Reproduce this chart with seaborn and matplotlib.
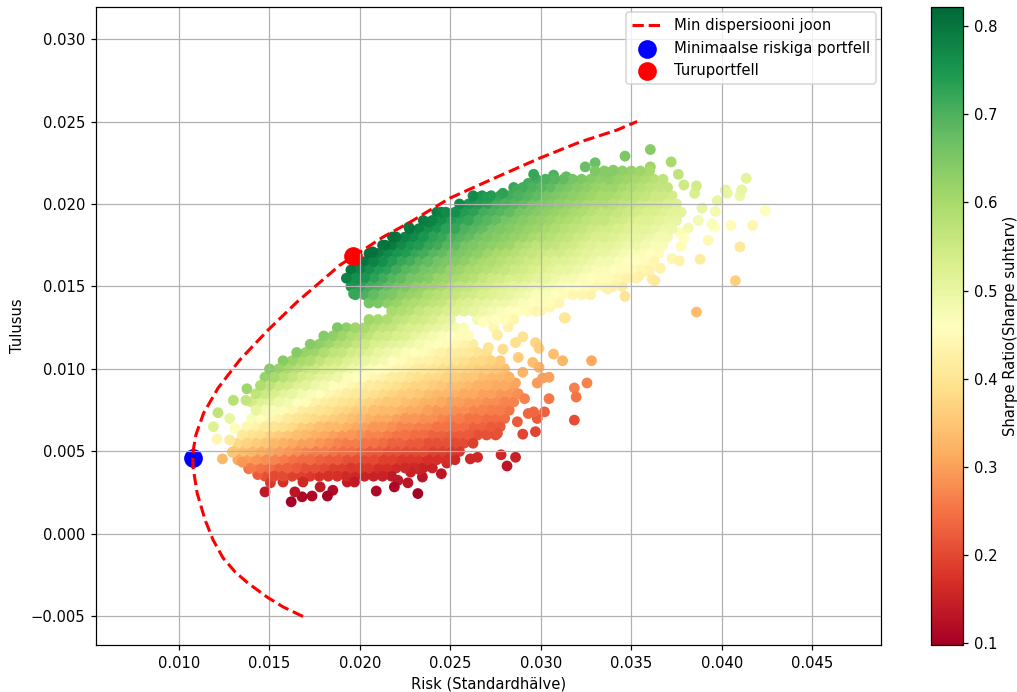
import numpy as np
import pandas as pd
import matplotlib
matplotlib.use('Agg')
import matplotlib.pyplot as plt
import seaborn as sns

#-----------------------------------------------
# all risk / return values below are in units of 0.001
ret_rows=[3.5, 4, 4.5, 5, 5.5, 6, 6.5, 7, 7.5, 8, 8.5, 9, 9.5, 10, 10.5, 11, 11.5, 12, 12.5,
          13, 13.5, 14, 14.5, 15, 15.5, 16, 16.5, 17, 17.5, 18, 18.5, 19, 19.5, 20, 20.5, 21, 21.5, 22]

risk_rows=[
 [14.75,15.25,15.75,16.25,16.75,17.25,17.75,18.25,18.75,19.25,19.75,20.25,20.75,21.25,21.75],
 [14,14.5,15,15.5,16,16.5,17,17.5,18,18.5,19,19.5,20,20.5,21,21.5,22,22.5,23,23.5,24],
 [13.25,13.75,14.25,14.75,15.25,15.75,16.25,16.75,17.25,17.75,18.25,18.75,19.25,19.75,20.25,20.75,21.25,21.75,22.25,22.75,23.25,23.75,24.25,24.75,25.25],
 [13,13.5,14,14.5,15,15.5,16,16.5,17,17.5,18,18.5,19,19.5,20,20.5,21,21.5,22,22.5,23,23.5,24,24.5,25,25.5],
 [13.25,13.75,14.25,14.75,15.25,15.75,16.25,16.75,17.25,17.75,18.25,18.75,19.25,19.75,20.25,20.75,21.25,21.75,22.25,22.75,23.25,23.75,24.25,24.75,25.25,25.75,26.25],
 [13.5,14,14.5,15,15.5,16,16.5,17,17.5,18,18.5,19,19.5,20,20.5,21,21.5,22,22.5,23,23.5,24,24.5,25,25.5,26,26.5,27,27.5],
 [13.75,14.25,14.75,15.25,15.75,16.25,16.75,17.25,17.75,18.25,18.75,19.25,19.75,20.25,20.75,21.25,21.75,22.25,22.75,23.25,23.75,24.25,24.75,25.25,25.75,26.25,26.75,27.25,27.75],
 [14,14.5,15,15.5,16,16.5,17,17.5,18,18.5,19,19.5,20,20.5,21,21.5,22,22.5,23,23.5,24,24.5,25,25.5,26,26.5,27,27.5,28],
 [14.25,14.75,15.25,15.75,16.25,16.75,17.25,17.75,18.25,18.75,19.25,19.75,20.25,20.75,21.25,21.75,22.25,22.75,23.25,23.75,24.25,24.75,25.25,25.75,26.25,26.75,27.25,27.75,28.25],
 [14,14.5,15,15.5,16,16.5,17,17.5,18,18.5,19,19.5,20,20.5,21,21.5,22,22.5,23,23.5,24,24.5,25,25.5,26,26.5,27,27.5,28,28.5],
 [14.25,14.75,15.25,15.75,16.25,16.75,17.25,17.75,18.25,18.75,19.25,19.75,20.25,20.75,21.25,21.75,22.25,22.75,23.25,23.75,24.25,24.75,25.25,25.75,26.25,26.75,27.25,27.75,28.25,28.75],
 [14.5,15,15.5,16,16.5,17,17.5,18,18.5,19,19.5,20,20.5,21,21.5,22,22.5,23,23.5,24,24.5,25,25.5,26,26.5,27,27.5,28,28.5],
 [14.75,15.25,15.75,16.25,16.75,17.25,17.75,18.25,18.75,19.25,19.75,20.25,20.75,21.25,21.75,22.25,22.75,23.25,23.75,24.25,24.75,25.25,25.75,26.25,26.75,27.25,27.75,28.25],
 [15,15.5,16,16.5,17,17.5,18,18.5,19,19.5,20,20.5,21,21.5,22,22.5,23,23.5,24,24.5,25,25.5,26,26.5,27,27.5,28],
 [15.75,16.25,16.75,17.25,17.75,18.25,18.75,19.25,19.75,20.25,20.75,21.25,21.75,22.25,22.75,23.25,23.75,24.25,24.75,25.25,25.75,26.25,26.75,27.25,27.75],
 [16.5,17,17.5,18,18.5,19,19.5,20,20.5,21,21.5,22,22.5,23,23.5,24,24.5,25,25.5,26,26.5,27],
 [17.25,17.75,18.25,18.75,19.25,19.75,20.25,20.75,21.25,21.75,22.25,22.75,23.25,23.75,24.25,24.75,25.25,25.75,26.25],
 [18,18.5,19,19.5,20,20.5,21,21.5,22,22.5,23,23.5,24,24.5,25,25.5,26],
 [18.75,19.25,19.75,20.25,20.75,21.25,21.75,22.25,22.75,23.25,23.75,24.25,24.75,25.25,25.75],
 [20.5,21,21.5,22,22.5,23,23.5,24,24.5,25,26.5,27,27.5,28,28.5],
 [21.75,22.25,22.75,23.25,23.75,24.25,24.75,25.25,25.75,26.25,26.75,27.25,27.75,28.25,28.75,29.25,29.75],
 [20.5,21,21.5,22,22.5,23,23.5,24,24.5,25,25.5,26,26.5,27,27.5,28,28.5,29,29.5,30,30.5,31],
 [19.75,20.25,20.75,21.25,21.75,22.25,22.75,23.25,23.75,24.25,24.75,25.25,25.75,26.25,26.75,27.25,27.75,28.25,28.75,29.25,29.75,30.25,30.75,31.25,31.75,32.25,32.75],
 [19.5,20,20.5,21,21.5,22,22.5,23,23.5,24,24.5,25,25.5,26,26.5,27,27.5,28,28.5,29,29.5,30,30.5,31,31.5,32,32.5,33,33.5,34,34.5],
 [19.25,19.75,20.25,20.75,21.25,21.75,22.25,22.75,23.25,23.75,24.25,24.75,25.25,25.75,26.25,26.75,27.25,27.75,28.25,28.75,29.25,29.75,30.25,30.75,31.25,31.75,32.25,32.75,33.25,33.75,34.25,34.75,35.25],
 [19.5,20,20.5,21,21.5,22,22.5,23,23.5,24,24.5,25,25.5,26,26.5,27,27.5,28,28.5,29,29.5,30,30.5,31,31.5,32,32.5,33,33.5,34,34.5,35,35.5,36],
 [19.75,20.25,20.75,21.25,21.75,22.25,22.75,23.25,23.75,24.25,24.75,25.25,25.75,26.25,26.75,27.25,27.75,28.25,28.75,29.25,29.75,30.25,30.75,31.25,31.75,32.25,32.75,33.25,33.75,34.25,34.75,35.25,35.75,36.25],
 [20.5,21,21.5,22,22.5,23,23.5,24,24.5,25,25.5,26,26.5,27,27.5,28,28.5,29,29.5,30,30.5,31,31.5,32,32.5,33,33.5,34,34.5,35,35.5,36,36.5],
 [21.25,21.75,22.25,22.75,23.25,23.75,24.25,24.75,25.25,25.75,26.25,26.75,27.25,27.75,28.25,28.75,29.25,29.75,30.25,30.75,31.25,31.75,32.25,32.75,33.25,33.75,34.25,34.75,35.25,35.75,36.25,36.75],
 [22,22.5,23,23.5,24,24.5,25,25.5,26,26.5,27,27.5,28,28.5,29,29.5,30,30.5,31,31.5,32,32.5,33,33.5,34,34.5,35,35.5,36,36.5,37],
 [22.75,23.25,23.75,24.25,24.75,25.25,25.75,26.25,26.75,27.25,27.75,28.25,28.75,29.25,29.75,30.25,30.75,31.25,31.75,32.25,32.75,33.25,33.75,34.25,34.75,35.25,35.75,36.25,36.75,37.25],
 [23.5,24,24.5,25,25.5,26,26.5,27,27.5,28,28.5,29,29.5,30,30.5,31,31.5,32,32.5,33,33.5,34,34.5,35,35.5,36,36.5,37,37.5],
 [24.25,24.75,25.25,25.75,26.25,26.75,27.25,27.75,28.25,28.75,29.25,29.75,30.25,30.75,31.25,31.75,32.25,32.75,33.25,33.75,34.25,34.75,35.25,35.75,36.25,36.75,37.25,37.75],
 [25.5,26,26.5,27,27.5,28,28.5,29,29.5,30,30.5,31,31.5,32,32.5,33,33.5,34,34.5,35,35.5,36,36.5,37,37.5],
 [26.25,26.75,27.25,27.75,28.25,28.75,29.25,29.75,30.25,30.75,31.25,31.75,32.25,32.75,33.25,33.75,34.25,34.75,35.25,35.75,36.25,36.75,37.25],
 [28.5,29,29.5,30,30.5,31,31.5,32,32.5,33,33.5,34,34.5,35,35.5,36,36.5,37],
 [29.75,30.25,30.75,31.25,31.75,32.25,32.75,33.25,33.75,34.25,34.75,35.25,35.75,36.25,36.75],
 [33,33.5,34,34.5,35,35.5,36],
]

sharpe_rows=[
 [.21,.20,.20,.19,.19,.18,.17,.17,.17,.16,.16,.15,.15,.15,.14],
 [.26,.25,.24,.23,.23,.22,.21,.21,.20,.19,.19,.18,.18,.18,.17,.17,.16,.16,.16,.15,.15],
 [.31,.30,.29,.28,.27,.26,.25,.24,.24,.23,.22,.22,.21,.21,.20,.20,.19,.19,.18,.18,.18,.17,.17,.17,.16],
 [.35,.34,.33,.32,.31,.30,.29,.28,.27,.26,.26,.25,.24,.24,.23,.22,.22,.21,.21,.20,.20,.20,.19,.19,.18,.18],
 [.38,.37,.36,.35,.33,.32,.31,.30,.30,.29,.28,.27,.26,.26,.25,.25,.24,.23,.23,.22,.22,.21,.21,.21,.20,.20,.19],
 [.41,.40,.39,.37,.36,.35,.34,.33,.32,.31,.30,.29,.29,.28,.27,.27,.26,.25,.25,.24,.24,.23,.23,.22,.22,.22,.21,.21,.20],
 [.44,.43,.41,.40,.39,.38,.36,.35,.34,.33,.33,.32,.31,.30,.29,.29,.28,.27,.27,.26,.26,.25,.25,.24,.24,.23,.23,.22,.22],
 [.47,.46,.44,.43,.41,.40,.39,.38,.37,.36,.35,.34,.33,.32,.31,.31,.30,.29,.29,.28,.28,.27,.26,.26,.25,.25,.24,.24,.24],
 [.50,.48,.47,.45,.44,.42,.41,.40,.39,.38,.37,.36,.35,.34,.33,.33,.32,.31,.31,.30,.29,.29,.28,.28,.27,.27,.26,.26,.25],
 [.54,.52,.51,.49,.48,.46,.45,.43,.42,.41,.40,.39,.38,.37,.36,.35,.35,.34,.33,.32,.32,.31,.30,.30,.29,.29,.28,.28,.27,.27],
 [.57,.55,.53,.51,.50,.48,.47,.46,.44,.43,.42,.41,.40,.39,.38,.37,.36,.36,.35,.34,.33,.33,.32,.31,.31,.30,.30,.29,.29,.28],
 [.59,.57,.55,.54,.52,.51,.49,.48,.46,.45,.44,.43,.42,.41,.40,.39,.38,.37,.37,.36,.35,.34,.34,.33,.32,.32,.31,.31,.30],
 [.62,.60,.58,.56,.54,.53,.51,.50,.49,.47,.46,.45,.44,.43,.42,.41,.40,.39,.38,.38,.37,.36,.35,.35,.34,.33,.33,.32],
 [.64,.62,.60,.58,.56,.55,.53,.52,.51,.49,.48,.47,.46,.45,.44,.43,.42,.41,.40,.39,.38,.38,.37,.36,.36,.35,.34],
 [.64,.62,.60,.59,.57,.55,.54,.52,.51,.50,.49,.48,.46,.45,.44,.43,.43,.42,.41,.40,.39,.38,.38,.37,.36],
 [.64,.62,.61,.59,.57,.56,.54,.53,.52,.50,.49,.48,.47,.46,.45,.44,.43,.42,.42,.41,.40,.39],
 [.64,.63,.61,.59,.58,.56,.55,.53,.52,.51,.50,.49,.48,.47,.46,.45,.44,.43,.42],
 [.64,.63,.61,.59,.58,.57,.55,.54,.53,.52,.50,.49,.48,.47,.46,.45,.45],
 [.65,.63,.61,.60,.58,.57,.56,.54,.53,.52,.51,.50,.49,.48,.47],
 [.61,.60,.59,.57,.56,.55,.54,.53,.51,.50,.48,.47,.46,.45,.44],
 [.60,.59,.58,.56,.55,.54,.53,.52,.51,.50,.49,.48,.47,.46,.46,.45,.44],
 [.66,.65,.63,.62,.60,.59,.58,.57,.56,.54,.53,.52,.51,.50,.49,.49,.48,.47,.46,.45,.45,.44],
 [.71,.70,.68,.66,.65,.63,.62,.61,.59,.58,.57,.56,.55,.54,.53,.52,.51,.50,.49,.48,.47,.47,.46,.45,.44,.44,.43],
 [.75,.73,.71,.70,.68,.66,.65,.63,.62,.61,.60,.58,.57,.56,.55,.54,.53,.52,.51,.50,.49,.49,.48,.47,.46,.46,.45,.44,.44,.43,.42],
 [.78,.76,.75,.73,.71,.69,.68,.66,.65,.64,.62,.61,.60,.59,.58,.56,.55,.54,.53,.53,.52,.51,.50,.49,.48,.48,.47,.46,.45,.45,.44,.43,.43],
 [.80,.78,.76,.74,.73,.71,.69,.68,.66,.65,.64,.62,.61,.60,.59,.58,.57,.56,.55,.54,.53,.52,.51,.50,.50,.49,.48,.47,.47,.46,.45,.45,.44,.43],
 [.81,.80,.78,.76,.74,.72,.71,.69,.68,.66,.65,.64,.63,.61,.60,.59,.58,.57,.56,.55,.54,.53,.52,.52,.51,.50,.49,.48,.48,.47,.46,.46,.45,.44],
 [.81,.79,.77,.75,.74,.72,.71,.69,.68,.66,.65,.64,.63,.61,.60,.59,.58,.57,.56,.55,.54,.54,.53,.52,.51,.50,.50,.49,.48,.47,.47,.46,.45],
 [.80,.79,.77,.75,.74,.72,.71,.69,.68,.66,.65,.64,.63,.62,.61,.59,.58,.57,.57,.56,.55,.54,.53,.52,.51,.51,.50,.49,.49,.48,.47,.47],
 [.80,.78,.77,.75,.73,.72,.70,.69,.68,.66,.65,.64,.63,.62,.61,.60,.59,.58,.57,.56,.55,.54,.53,.53,.52,.51,.50,.50,.49,.48,.48],
 [.80,.78,.76,.75,.73,.72,.70,.69,.68,.66,.65,.64,.63,.62,.61,.60,.59,.58,.57,.56,.55,.54,.54,.53,.52,.51,.51,.50,.49,.49],
 [.79,.78,.76,.74,.73,.72,.70,.69,.68,.66,.65,.64,.63,.62,.61,.60,.59,.58,.57,.56,.56,.55,.54,.53,.52,.52,.51,.50,.50],
 [.79,.77,.76,.74,.73,.71,.70,.69,.68,.66,.65,.64,.63,.62,.61,.60,.59,.58,.57,.57,.56,.55,.54,.53,.53,.52,.51,.51],
 [.77,.75,.74,.73,.71,.70,.69,.68,.66,.65,.64,.63,.62,.61,.60,.59,.59,.58,.57,.56,.55,.54,.54,.53,.52],
 [.77,.75,.74,.72,.71,.70,.69,.68,.66,.65,.64,.63,.62,.61,.60,.60,.59,.58,.57,.56,.55,.55,.54],
 [.72,.71,.70,.69,.68,.66,.65,.64,.63,.62,.61,.61,.60,.59,.58,.57,.56,.56],
 [.71,.70,.69,.68,.66,.65,.64,.63,.63,.62,.61,.60,.59,.58,.57],
 [.65,.64,.64,.63,.62,.61,.60],
]

# single dots around the edges of the two clouds
stray_risk=[14.75,16.2,16.4,16.8,17.35,16.85,18.2,18.5,20.9,21.9,22.1,22.65,23.2,23.45,24.5,26.1,
            12.4,12.95,12.1,11.9,12.8,12.15,12.8,13.0,13.7,13.75,13.1,13.5,
            28.13,28.6,27.8,26.5,29.7,29.0,31.85,28.7,27.6,29.3,29.6,29.8,30.2,30.45,31.95,31.85,32.55,29.8,30.45,30.1,29.1,
            32.8,31.2,30.7,29.9,29.7,29.55,29.9,29.0,28.6,28.75,28.6,29.0,27.9,27.1,28.2,27.6,27.4,31.35,26.8,
            36.05,34.65,37.2,36.05,37.6,38.6,37.9,38.5,41.35,41.1,41.0,40.2,40.3,39.75,39.65,38.9,42.4,40.5,41.7,39.45,39.6,
            38.7,38.15,39.25,37.9,37.7,37.75,41.0,38.8,40.75,38.6,37.65,37.25,36.6,36.3,36.15,35.7,35.4,34.65,33.7,
            31.3,30.5,30.0,19.65,19.85,24.5,29.6,33.0,32.45,
            20.7,21.4,21.8,22.7,23.8,25.4,26.4,27.0,27.9,28.7,29.3,30.7,31.4,33.7,34.0,
            15.05,15.75,17.8,19.3,19.7,22.8,23.3,24.8,14.35,13.85]
stray_ret=[2.55,1.95,2.55,2.25,2.3,3.15,2.3,2.65,2.6,2.85,3.25,3.1,2.45,3.45,3.65,4.55,
           4.55,4.95,5.75,6.5,5.7,7.35,7.0,8.1,8.1,8.8,6.4,4.35,
           4.12,4.65,4.8,4.65,6.2,6.05,6.9,6.8,6.1,7.3,7.4,7.0,7.4,8.2,8.3,8.85,9.15,9.15,9.5,9.45,8.2,
           10.5,10.5,10.9,11.25,11.6,10.4,10.1,9.8,9.15,10.7,11.6,11.95,11.2,11.3,12.55,12.05,12.5,13.1,12.85,
           23.3,22.9,22.55,22.25,21.8,21.1,21.15,20.65,21.55,20.85,20.5,20.85,20.65,20.2,19.55,19.75,19.6,18.7,18.7,18.8,18.6,
           19.0,18.55,17.8,17.9,18.25,17.45,17.4,16.65,15.35,13.45,16.55,16.7,16.1,15.35,15.45,15.9,15.6,14.4,14.85,
           13.1,13.75,13.55,14.55,15.45,19.5,21.8,22.5,22.25,
           17.1,17.5,18.0,18.6,18.9,19.5,20.4,20.4,20.65,20.85,21.25,21.75,21.65,21.9,22.05,
           3.1,3.15,2.85,3.15,3.15,3.75,3.9,4.3,3.6,3.95]
stray_sharpe=[.14,.10,.13,.11,.11,.16,.10,.12,.11,.11,.14,.13,.10,.13,.13,.16,
              .33,.35,.44,.52,.41,.57,.50,.58,.56,.61,.45,.29,
              .13,.15,.16,.16,.195,.195,.205,.22,.21,.235,.235,.22,.23,.255,.25,.265,.27,.295,.30,.30,.27,
              .31,.325,.34,.365,.375,.34,.325,.325,.305,.36,.39,.395,.385,.40,.43,.42,.44,.41,.46,
              .64,.65,.60,.61,.57,.54,.55,.53,.51,.50,.49,.51,.50,.50,.48,.50,.455,.45,.44,.47,.46,
              .48,.48,.445,.46,.47,.45,.41,.42,.365,.335,.43,.44,.43,.41,.42,.43,.43,.40,.43,
              .405,.44,.44,.72,.76,.78,.72,.67,.67,
              .81,.80,.81,.80,.78,.75,.76,.74,.73,.71,.71,.70,.68,.64,.64,
              .18,.17,.14,.14,.14,.15,.15,.16,.22,.25]

# efficient frontier, lowest to highest return
line_risk=[16.85,15.75,14.86,13.8,13.1,12.43,11.88,11.44,11.0,10.77,10.77,10.79,10.93,11.36,12.16,13.36,14.92,16.52,18.9,21.28,22.77,24.98,27.58,29.96,32.17,34.2,35.32]
line_ret=[-5.0,-4.42,-3.82,-2.97,-2.3,-1.45,-0.36,0.85,2.48,4.06,4.6,5.09,6.0,7.33,8.85,10.55,12.36,14.06,16.3,18.0,18.9,20.36,21.64,22.79,23.76,24.48,25.0]

min_risk=[10.77]
min_ret=[4.6]
market_risk=[19.62]
market_ret=[16.85]

#-----------------------------------------------
fig_w, fig_h, dpi=1018, 692, 110
scale=0.001
plt.rcParams['font.size']=9.7


def make_df():
    l_risk, l_ret, l_sharpe=[], [], []
    for y, xs, ss in zip(ret_rows, risk_rows, sharpe_rows, strict=True):
        for x, s in zip(xs, ss, strict=True):
            l_risk.append(x)
            l_ret.append(y)
            l_sharpe.append(s)
    l_risk+=stray_risk
    l_ret+=stray_ret
    l_sharpe+=stray_sharpe
    df=pd.DataFrame({'risk': l_risk, 'ret': l_ret, 'sharpe': l_sharpe})
    df['risk']=df['risk']*scale
    df['ret']=df['ret']*scale
    #mix the draw order so the overlaps do not stack up row by row
    n=len(df)
    df=df.iloc[(np.arange(n)*389)%n]
    return df


df=make_df()

fig=plt.figure(figsize=(fig_w/dpi, fig_h/dpi), dpi=dpi)
ax=fig.add_axes([96/fig_w, 1-645/fig_h, 785/fig_w, 638/fig_h])
cax=fig.add_axes([931/fig_w, 1-645/fig_h, 32/fig_w, 638/fig_h])

norm=plt.Normalize(0.098, 0.8216)
sns.scatterplot(data=df, x='risk', y='ret', hue='sharpe', palette='RdYlGn', hue_norm=norm,
                s=50, linewidth=0, legend=False, ax=ax)
sns.lineplot(x=np.array(line_risk)*scale, y=np.array(line_ret)*scale, sort=False, estimator=None,
             color='red', linestyle='--', linewidth=2, label='Min dispersiooni joon', ax=ax)
sns.scatterplot(x=np.array(min_risk)*scale, y=np.array(min_ret)*scale, color='blue', s=150, linewidth=0,
                label='Minimaalse riskiga portfell', ax=ax)
sns.scatterplot(x=np.array(market_risk)*scale, y=np.array(market_ret)*scale, color='red', s=150, linewidth=0,
                label='Turuportfell', ax=ax)

ax.set_xlim(0.00541, 0.0488)
ax.set_ylim(-0.00673, 0.03194)
ax.grid(True)
ax.set_xlabel('Risk (Standardhälve)')
ax.set_ylabel('Tulusus')
ax.legend(loc='upper right', borderaxespad=0.35)

sm=plt.cm.ScalarMappable(norm=norm, cmap='RdYlGn')
cb=fig.colorbar(sm, cax=cax)
cb.set_label('Sharpe Ratio(Sharpe suhtarv)')

plt.savefig('out.png', dpi=dpi)
plt.close()
